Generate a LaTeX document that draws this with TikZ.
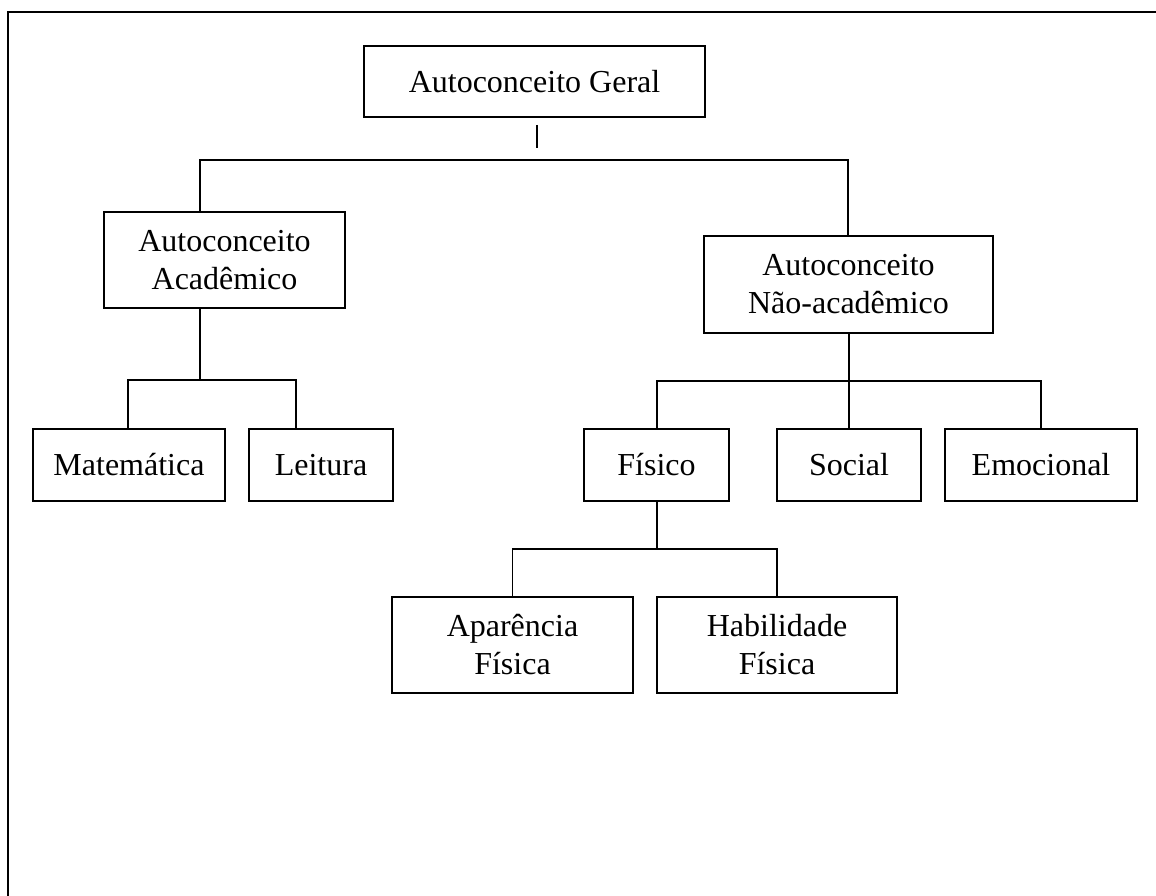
\documentclass[tikz,border=0pt]{standalone}
\usepackage{fontspec}
\setmainfont{Liberation Serif}
\usepackage{tikz}
\usetikzlibrary{positioning,calc}

\begin{document}
\begin{tikzpicture}[
    x=1pt, y=-1pt,
    box/.style={draw, line width=1.3pt, inner sep=0pt, align=center, font=\fontsize{32}{38}\selectfont},
    wide/.style={box, minimum width=241pt, minimum height=96pt},
    small/.style={box, minimum width=144pt, minimum height=72pt},
    conn/.style={line width=1.3pt}
]
\useasboundingbox (0,0) rectangle (1156,896);
\draw[line width=2pt] (8,896) -- (8,12) -- (1156,12);

\node[box, minimum width=341pt, minimum height=71pt] (geral) at (534.5,81.5) {Autoconceito Geral};
\node[wide] (acad) at (224.5,260) {Autoconceito\\Acadêmico};
\node[box, minimum width=289pt, minimum height=97pt] (nacad) at (848.5,284.5) {Autoconceito\\Não-acadêmico};
\node[small, minimum width=192pt] (mat) at (129,465) {Matemática};
\node[small] (leit) at (321,465) {Leitura};
\node[small, minimum width=145pt] (fis) at (656.5,465) {Físico};
\node[small] (soc) at (849,465) {Social};
\node[small, minimum width=192pt] (emo) at (1041,465) {Emocional};
\node[wide] (apar) at (512.5,645) {Aparência\\Física};
\node[wide, minimum width=240pt] (hab) at (777,645) {Habilidade\\Física};

% junctions
\coordinate (ta) at (537,125);
\coordinate (tb) at (537,148);
\coordinate (busL) at (200,160);
\coordinate (busR) at (848,160);
\coordinate (acL) at (128,380);
\coordinate (acR) at (296,380);
\coordinate (ac) at (200,380);
\coordinate (naL) at (657,381);
\coordinate (naR) at (1041,381);
\coordinate (fs) at (657,549);

\draw[conn] (ta) -- (tb);
\draw[conn] (acad.north -| busL) -- (busL) -- (busR) -- (nacad.north -| busR);
\draw[conn] (acad.south -| ac) -- (ac);
\draw[conn] (mat.north -| acL) -- (acL) -- (acR) -- (leit.north -| acR);
\draw[conn] (nacad.south -| soc.north) -- (soc.north);
\draw[conn] (fis.north -| naL) -- (naL) -- (naR) -- (emo.north -| naR);
\draw[conn] (fis.south -| fs) -- (fs);
\draw[conn] (apar.north) -- (apar.north |- fs) -- (hab.north |- fs) -- (hab.north);
\end{tikzpicture}
\end{document}
